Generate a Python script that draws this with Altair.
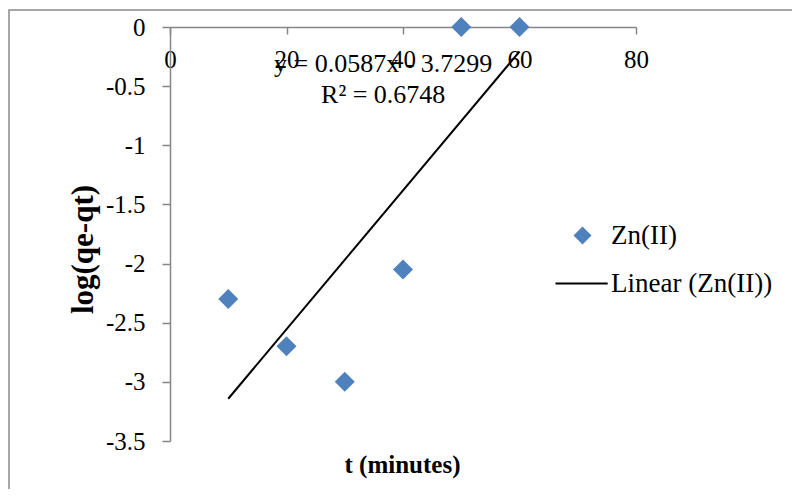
import altair as alt
import pandas as pd

# ---- data ----
t_minutes = [10, 20, 30, 40, 50, 60]
log_qe_qt = [-2.3, -2.7, -3.0, -2.05, 0.0, 0.0]
series_names = ["Zn(II)", "Linear (Zn(II))"]
x_ticks = [0, 20, 40, 60, 80]
y_ticks = [0, -0.5, -1, -1.5, -2, -2.5, -3, -3.5]
eq_lines = ["y = 0.0587x - 3.7299", "R² = 0.6748"]
eq_x = [36.6, 36.6]
eq_y = [-0.38, -0.642]

FONT = "Liberation Serif"
BLUE = "#4F81BD"
GRAY = "#868686"
W, H = 466, 414

df = pd.DataFrame({"t": t_minutes, "y": log_qe_qt, "series": [series_names[0]] * len(t_minutes)})
eq_df = pd.DataFrame({"x": eq_x, "y": eq_y, "label": eq_lines})
frame_df = pd.DataFrame({"k": [0]})

xscale = alt.Scale(domain=[0, 80], nice=False, zero=False)
yscale = alt.Scale(domain=[-3.5, 0], nice=False, zero=False)

x_axis = alt.Axis(
    values=x_ticks, orient="bottom", offset=-H, title="t (minutes)",
    titleX=232, titleY=437, titleBaseline="middle", titleAlign="center",
    titleFontSize=25, tickSize=7, labelPadding=13, labelFlush=False,
    labelOverlap=False, labelExpr="toString(datum.value)",
)
y_axis = alt.Axis(
    values=y_ticks, orient="left", title="log(qe-qt)",
    titleX=-87, titleY=222, titleAngle=-90, titleBaseline="middle", titleAlign="center",
    titleFontSize=31, tickSize=8, labelPadding=17, labelOverlap=False,
    labelExpr="toString(datum.value)",
)

legend = alt.Legend(
    title=None, orient="none", legendX=399, legendY=195,
    symbolSize=324, labelFont=FONT, labelFontSize=27, labelColor="black",
    labelOffset=15, rowPadding=20, labelLimit=400, symbolStrokeWidth=0,
)

frame = alt.Chart(frame_df).mark_rect(fill="transparent", stroke="#8a8a8a", strokeWidth=1.5, clip=False).encode(
    x=alt.value(-161), x2=alt.value(700), y=alt.value(-17), y2=alt.value(520)
)

points = alt.Chart(df).mark_point(filled=True, size=400, opacity=1, strokeWidth=0).encode(
    x=alt.X("t:Q", scale=xscale, axis=x_axis),
    y=alt.Y("y:Q", scale=yscale, axis=y_axis),
    color=alt.Color(
        "series:N",
        scale=alt.Scale(domain=series_names, range=[BLUE, "black"]),
        legend=legend,
    ),
    shape=alt.Shape(
        "series:N",
        scale=alt.Scale(domain=series_names, range=["diamond", "M-3.0,-0.12H2.8V0.12H-3.0Z"]),
        legend=legend,
    ),
)

trend = alt.Chart(df).transform_regression("t", "y", method="linear").mark_line(
    color="black", strokeWidth=2
).encode(x=alt.X("t:Q", scale=xscale), y=alt.Y("y:Q", scale=yscale))

eq_text = alt.Chart(eq_df).mark_text(
    font=FONT, fontSize=26, color="black", align="center", baseline="alphabetic"
).encode(x=alt.X("x:Q", scale=xscale), y=alt.Y("y:Q", scale=yscale), text="label:N")

chart = alt.layer(frame, trend, points, eq_text).properties(
    width=W, height=H,
    autosize=alt.AutoSizeParams(type="none"),
    padding={"left": 162, "top": 19, "right": 156, "bottom": 48},
).configure_view(strokeWidth=0).configure_axis(
    labelFont=FONT, labelFontSize=25, labelColor="black",
    titleFont=FONT, titleFontWeight="bold", titleColor="black",
    domainColor=GRAY, tickColor=GRAY, domainWidth=1.5, tickWidth=1.5, grid=False,
)

chart.save("out.html", embed_options={"renderer": "svg", "actions": False})
